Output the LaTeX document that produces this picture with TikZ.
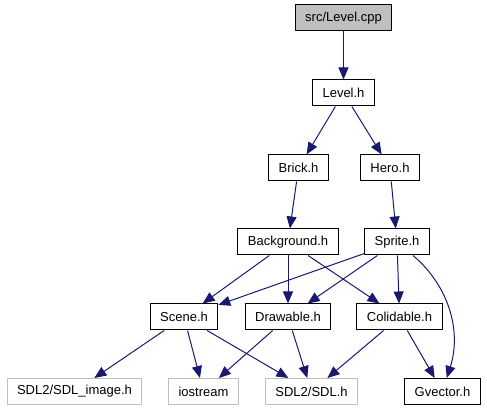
\documentclass[tikz,border=0pt]{standalone}
\usepackage{fontspec}
\setmainfont{Liberation Sans}
\usepackage{xcolor}
\usetikzlibrary{arrows.meta}
\definecolor{edgeblue}{HTML}{191970}
\definecolor{extgray}{HTML}{BFBFBF}

\begin{document}
\begin{tikzpicture}[x=1pt,y=-1pt,
  file/.style={draw=black,line width=1pt,inner xsep=10pt,inner ysep=0pt,minimum height=26pt,font=\fontsize{13}{15}\selectfont},
  ext/.style={file,draw=extgray},
  root/.style={file,fill=extgray},
  dep/.style={draw=edgeblue,line width=1pt,-{Triangle[length=12pt,width=10pt]}}]
\useasboundingbox (0,0) rectangle (487,411);
\node[root] (cpp) at (343.5,18) {src/Level.cpp};
\node[file] (level) at (343.5,93) {Level.h};
\node[file] (brick) at (298.5,168) {Brick.h};
\node[file] (hero) at (390,168) {Hero.h};
\node[file] (background) at (288,242) {Background.h};
\node[file] (sprite) at (397,242) {Sprite.h};
\node[file] (scene) at (184,317) {Scene.h};
\node[file] (drawable) at (288,317) {Drawable.h};
\node[file] (colidable) at (399.5,317) {Colidable.h};
\node[ext] (sdlimage) at (74.5,391.5) {SDL2/SDL\_image.h};
\node[ext] (iostream) at (203.5,391.5) {iostream};
\node[ext] (sdl) at (311.5,391.5) {SDL2/SDL.h};
\node[file] (gvector) at (442.5,391.5) {Gvector.h};
\draw[dep] (cpp) -- (level);
\draw[dep] (level) -- (brick);
\draw[dep] (level) -- (hero);
\draw[dep] (brick) -- (background);
\draw[dep] (hero) -- (sprite);
\draw[dep] (background) -- (scene);
\draw[dep] (background) -- (drawable);
\draw[dep] (background) -- (colidable);
\draw[dep] (sprite) -- (scene);
\draw[dep] (sprite) -- (drawable);
\draw[dep] (sprite) -- (colidable);
\draw[dep] (sprite) .. controls (448,285) and (462,330) .. (gvector);
\draw[dep] (scene) -- (sdlimage);
\draw[dep] (scene) -- (iostream);
\draw[dep] (scene) -- (sdl);
\draw[dep] (drawable) -- (iostream);
\draw[dep] (drawable) -- (sdl);
\draw[dep] (colidable) -- (sdl);
\draw[dep] (colidable) -- (gvector);
\end{tikzpicture}
\end{document}
